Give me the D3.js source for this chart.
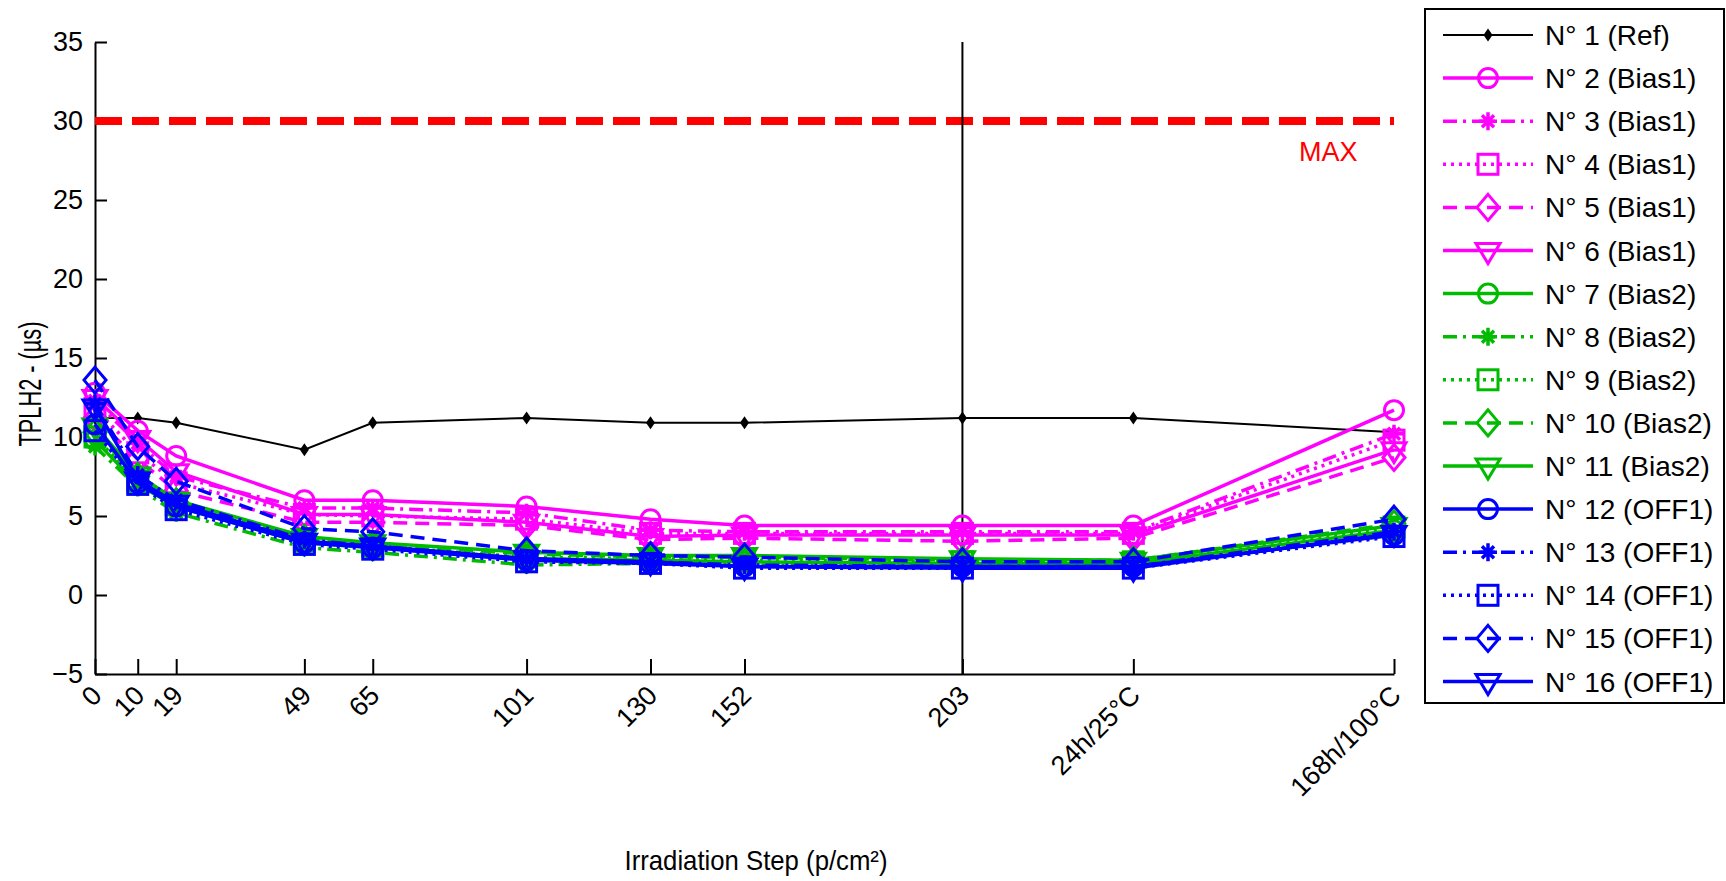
<!DOCTYPE html>
<html><head><meta charset="utf-8">
<script src="https://cdn.jsdelivr.net/npm/d3@7"></script>
<style>
body{margin:0;background:#fff}
svg{display:block}
text{font-family:Arial,"Liberation Sans",sans-serif}
</style>
</head><body>
<svg id="chart" width="1726" height="881"></svg>
<script>
// ---------- data ----------
const stepValues = [0, 10, 19, 49, 65, 101, 130, 152, 203, 243, 304];
const stepLabels = ["0","10","19","49","65","101","130","152","203","24h/25°C","168h/100°C"];
const yTickValues = [-5, 0, 5, 10, 15, 20, 25, 30, 35];
const maxLimit = 30;
const markedStep = 203;

const seriesNames = ["N° 1 (Ref)","N° 2 (Bias1)","N° 3 (Bias1)","N° 4 (Bias1)","N° 5 (Bias1)","N° 6 (Bias1)",
  "N° 7 (Bias2)","N° 8 (Bias2)","N° 9 (Bias2)","N° 10 (Bias2)","N° 11 (Bias2)",
  "N° 12 (OFF1)","N° 13 (OFF1)","N° 14 (OFF1)","N° 15 (OFF1)","N° 16 (OFF1)"];

const n1  = [11.2, 11.2, 10.9, 9.2, 10.9, 11.2, 10.9, 10.9, 11.2, 11.2, 10.3];
const n2  = [12.8, 10.4, 8.8, 6.0, 6.0, 5.6, 4.8, 4.4, 4.4, 4.4, 11.7];
const n3  = [12.3, 9.6, 7.5, 5.5, 5.5, 5.2, 4.1, 4.0, 4.0, 4.0, 10.2];
const n4  = [11.8, 9.0, 7.1, 5.1, 5.0, 4.8, 3.9, 3.9, 3.9, 3.9, 9.8];
const n5  = [11.2, 8.6, 6.6, 4.6, 4.6, 4.4, 3.5, 3.6, 3.4, 3.6, 8.7];
const n6  = [12.5, 9.9, 7.8, 5.1, 5.1, 4.6, 3.7, 3.8, 3.8, 3.8, 9.2];
const n7  = [9.8, 7.0, 5.6, 3.3, 3.0, 2.3, 2.2, 2.1, 2.0, 2.0, 4.1];
const n8  = [9.4, 6.8, 5.2, 3.0, 2.7, 1.9, 2.0, 1.9, 1.8, 1.8, 3.8];
const n9  = [10.0, 7.2, 5.7, 3.4, 3.1, 2.4, 2.3, 2.2, 2.1, 2.1, 4.3];
const n10 = [10.3, 7.5, 5.9, 3.6, 3.2, 2.6, 2.4, 2.4, 2.2, 2.2, 4.5];
const n11 = [10.7, 7.6, 6.0, 3.7, 3.3, 2.7, 2.5, 2.5, 2.3, 2.2, 4.4];
const n12 = [10.8, 7.1, 5.6, 3.3, 3.0, 2.2, 2.0, 1.8, 1.8, 1.8, 3.8];
const n13 = [12.1, 7.6, 6.0, 3.5, 3.1, 2.3, 2.1, 1.9, 1.8, 1.8, 4.0];
const n14 = [10.4, 7.0, 5.4, 3.2, 2.9, 2.1, 2.0, 1.7, 1.7, 1.7, 3.7];
const n15 = [13.6, 9.4, 7.2, 4.2, 4.0, 2.8, 2.5, 2.4, 2.1, 2.1, 4.8];
const n16 = [11.9, 7.3, 5.8, 3.4, 3.1, 2.3, 2.1, 1.8, 1.7, 1.7, 3.9];
const seriesValues = [n1,n2,n3,n4,n5,n6,n7,n8,n9,n10,n11,n12,n13,n14,n15,n16];

// ---------- styles ----------
const MAG = "#ff00ff", GRN = "#00bb00", BLU = "#0000ff";
const groupColors = ["#000", MAG,MAG,MAG,MAG,MAG, GRN,GRN,GRN,GRN,GRN, BLU,BLU,BLU,BLU,BLU];
const lineKinds = ["solid","solid","dashdot","dot","dash","solid","solid","dashdot","dot","dash","solid","solid","dashdot","dot","dash","solid"];
const markerKinds = ["dot","circle","star","square","diamond","tri","circle","star","square","diamond","tri","circle","star","square","diamond","tri"];
const dashMap = {solid:null, dashdot:"14,6,3,6", dot:"3,5", dash:"14,8"};

// ---------- layout ----------
const svg = d3.select("#chart");
const L = 95, R = 1394, T = 42, B = 674;
const x = d3.scaleLinear().domain([0, 304]).range([L, R]);
const y = d3.scaleLinear().domain([-5, 35]).range([B, T]);
const FONT = 27;

// y axis
const yAxis = svg.append("g").attr("transform", `translate(${L},0)`)
  .call(d3.axisLeft(y).tickValues(yTickValues).tickSizeInner(-12).tickSizeOuter(0).tickPadding(12));
yAxis.selectAll("text").style("font-size", FONT + "px").style("fill", "#000");
yAxis.selectAll("line,path").attr("stroke", "#000").attr("stroke-width", 2);

// x axis
const xAxis = svg.append("g").attr("transform", `translate(0,${B})`)
  .call(d3.axisBottom(x).tickValues(stepValues).tickFormat((d, i) => stepLabels[i])
    .tickSizeInner(-15).tickSizeOuter(0));
xAxis.selectAll("line,path").attr("stroke", "#000").attr("stroke-width", 2);
xAxis.selectAll("text")
  .style("font-size", FONT + "px").style("fill", "#000")
  .attr("x", 0).attr("y", 0).attr("dy", 0)
  .attr("text-anchor", "end")
  .attr("transform", "translate(8,23) rotate(-45)");

// max line
svg.append("line").attr("x1", x(0)).attr("x2", x(304)).attr("y1", y(maxLimit)).attr("y2", y(maxLimit))
  .attr("stroke", "#ff0000").attr("stroke-width", 8).attr("stroke-dasharray", "27,10");
svg.append("text").attr("x", 1299).attr("y", 161).text("MAX")
  .style("font-size", FONT + "px").style("fill", "#ff0000");

// vertical marker line at 203
svg.append("line").attr("x1", x(markedStep)).attr("x2", x(markedStep)).attr("y1", y(35)).attr("y2", y(-5))
  .attr("stroke", "#000").attr("stroke-width", 2);

// ---------- markers ----------
function drawMarker(g, kind, cx, cy, color) {
  const m = g.append("g").attr("transform", `translate(${cx},${cy})`);
  const sw = 3;
  if (kind === "dot") {
    m.append("path").attr("d", "M0,-6.5L4.5,0L0,6.5L-4.5,0Z").attr("fill", color);
  } else if (kind === "circle") {
    m.append("circle").attr("r", 9.5).attr("fill", "none").attr("stroke", color).attr("stroke-width", sw);
  } else if (kind === "square") {
    m.append("rect").attr("x", -10).attr("y", -10).attr("width", 20).attr("height", 20)
      .attr("fill", "none").attr("stroke", color).attr("stroke-width", sw);
  } else if (kind === "diamond") {
    m.append("path").attr("d", "M0,-13L11,0L0,13L-11,0Z").attr("fill", "none").attr("stroke", color).attr("stroke-width", sw);
  } else if (kind === "tri") {
    m.append("path").attr("d", "M-12,-7L12,-7L0,13Z").attr("fill", "none").attr("stroke", color).attr("stroke-width", sw);
  } else if (kind === "star") {
    m.append("path").attr("d", "M0,-9L0,9M-9,0L9,0M-6,-6L6,6M-6,6L6,-6")
      .attr("fill", "none").attr("stroke", color).attr("stroke-width", 3.5);
  }
}

// ---------- series ----------
const line = d3.line().x(d => x(d[0])).y(d => y(d[1]));
seriesValues.forEach((vals, i) => {
  const pts = vals.map((v, j) => [stepValues[j], v]);
  const g = svg.append("g");
  g.append("path").attr("d", line(pts)).attr("fill", "none")
    .attr("stroke", groupColors[i]).attr("stroke-width", i === 0 ? 2 : 3.5)
    .attr("stroke-dasharray", dashMap[lineKinds[i]]);
  pts.forEach(p => drawMarker(g, markerKinds[i], x(p[0]), y(p[1]), groupColors[i]));
});

// ---------- axis titles ----------
svg.append("text").attr("x", 756).attr("y", 870).attr("text-anchor", "middle")
  .style("font-size", "28px").style("fill", "#000").attr("textLength", 263).attr("lengthAdjust", "spacingAndGlyphs")
  .text("Irradiation Step (p/cm²)");
svg.append("text").attr("transform", "translate(41,384) rotate(-90)").attr("text-anchor", "middle")
  .style("font-size", "31px").style("fill", "#000").attr("textLength", 125).attr("lengthAdjust", "spacingAndGlyphs")
  .text("TPLH2 - (µs)");

// ---------- legend ----------
const leg = svg.append("g");
leg.append("rect").attr("x", 1425).attr("y", 9).attr("width", 299).attr("height", 694)
  .attr("fill", "#fff").attr("stroke", "#000").attr("stroke-width", 2);
seriesNames.forEach((name, i) => {
  const ry = 35 + i * 43.1;
  const g = leg.append("g");
  g.append("line").attr("x1", 1443).attr("x2", 1533).attr("y1", ry).attr("y2", ry)
    .attr("stroke", groupColors[i]).attr("stroke-width", i === 0 ? 2 : 3.5)
    .attr("stroke-dasharray", dashMap[lineKinds[i]]);
  drawMarker(g, markerKinds[i], 1488, ry, groupColors[i]);
  g.append("text").attr("x", 1545).attr("y", ry).attr("dy", "0.36em")
    .style("font-size", "28px").style("fill", "#000").text(name);
});
</script>
</body></html>
